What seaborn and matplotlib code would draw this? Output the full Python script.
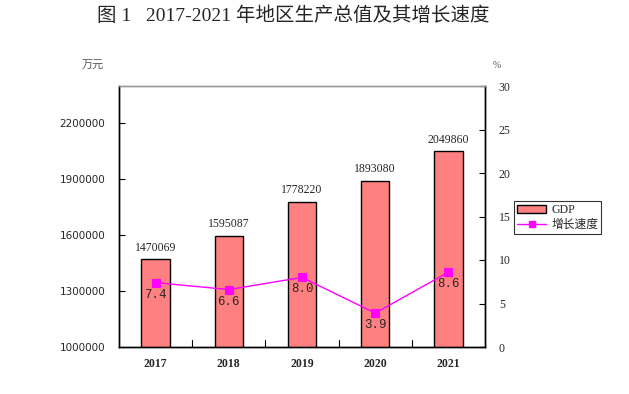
import numpy as np
import pandas as pd
import matplotlib
matplotlib.use("Agg")
import matplotlib.pyplot as plt
import seaborn as sns
from matplotlib.patches import Patch
from matplotlib.lines import Line2D

years = ["2017", "2018", "2019", "2020", "2021"]
gdp = [1470069, 1595087, 1778220, 1893080, 2049860]
growth = [7.4, 6.6, 8.0, 3.9, 8.6]
gdp_ticks = [1000000, 1300000, 1600000, 1900000, 2200000]
pct_ticks = [0, 5, 10, 15, 20, 25, 30]

sns.set_theme(style="white")
plt.rcParams['font.family'] = ['Liberation Serif', 'Noto Sans CJK SC', 'DejaVu Sans']

df = pd.DataFrame({"year": years, "gdp": gdp, "growth": growth})

fig = plt.figure(figsize=(6.29, 3.94), dpi=100)
ax = fig.add_axes([119/629, 47/394, 366/629, 261/394])
sns.barplot(data=df, x="year", y="gdp", color="#FF8080", saturation=1,
            edgecolor="black", linewidth=1.0, width=0.39, ax=ax)
ax.set_ylim(1000000, 2400000)
ax.set_xlim(-0.5, 4.5)
ax.set_yticks(gdp_ticks)
ax.set_yticklabels([str(v) for v in gdp_ticks], fontsize=7.5, family=['DejaVu Sans'])
ax.set_xlabel("")
ax.set_ylabel("")
ax.set_xticks(range(len(years)))
ax.set_xticklabels(years, fontsize=8.5, fontweight="bold")
ax.tick_params(axis="x", length=0, pad=8)
ax.tick_params(axis="y", direction="in", length=4, width=0.8, color="black", left=True, pad=10)
for x in np.arange(0.5, 4.5, 1):
    ax.plot([x, x], [1000000, 1000000 + 1400000 * 0.025], color="black", lw=0.8)
for i, v in enumerate(gdp):
    ax.text(i, v + 30000, str(v), ha="center", va="bottom", fontsize=8.5, family=['Liberation Serif'])

ax2 = ax.twinx()
sns.lineplot(x=np.arange(len(years)), y=growth, color="#FF00FF", marker="s",
             markersize=6, markeredgecolor="#FF00FF", linewidth=1, ax=ax2)
ax2.set_ylim(0, 30)
ax2.set_yticks(pct_ticks)
ax2.set_yticklabels([str(v) for v in pct_ticks], fontsize=8.5)
ax2.tick_params(axis="y", direction="in", length=4, width=0.8, color="black", right=True, pad=10)
for i, v in enumerate(growth):
    ax2.text(i, v - 0.7, f"{v:.1f}", ha="center", va="top", fontsize=9, family=['Liberation Mono'])

for a in (ax, ax2):
    for s in ("left", "right", "bottom"):
        a.spines[s].set_color("black")
        a.spines[s].set_linewidth(1)
    a.spines["top"].set_color("#999999")
    a.spines["top"].set_linewidth(1)

handles = [Patch(facecolor="#FF8080", edgecolor="black", linewidth=1),
           Line2D([0], [0], color="#FF00FF", marker="s", markersize=5, lw=1)]
leg = fig.legend(handles, ["GDP", "增长速度"], loc="upper left", bbox_to_anchor=(514/629, 1 - 201/394),
                 fontsize=8.5, frameon=True, fancybox=False, borderpad=0.25, labelspacing=0.25,
                 handlelength=2.5, handletextpad=0.4, borderaxespad=0)
leg.get_frame().set_edgecolor("black")
leg.get_frame().set_linewidth(0.8)

fig.text(93/629, 1 - 66/394, "万元", ha="center", va="center", fontsize=8, color="#555555",
         style="italic", family=['Noto Sans CJK SC'])
fig.text(497/629, 1 - 65/394, "%", ha="center", va="center", fontsize=7, color="#555555")
fig.text(293/629, 1 - 16/394, "图 1   2017-2021 年地区生产总值及其增长速度", ha="center", va="center",
         fontsize=14, family=['Liberation Serif', 'Noto Sans CJK SC'])

fig.savefig("out.png", dpi=100)
